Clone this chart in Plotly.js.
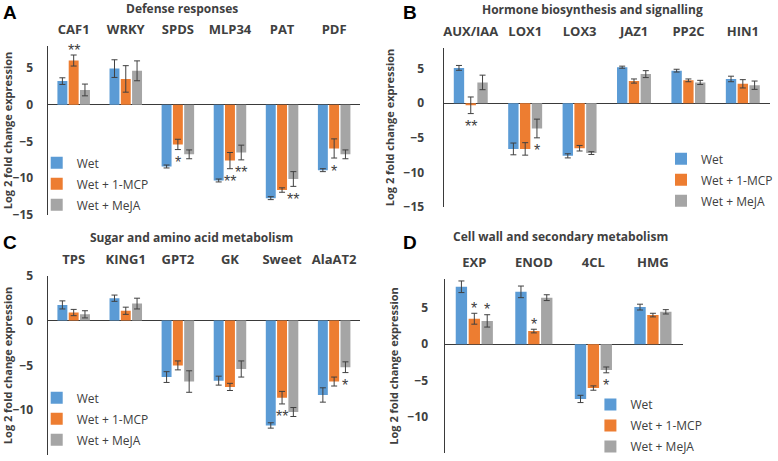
<!DOCTYPE html>
<html>
<head>
<meta charset="utf-8">
<script src="https://cdn.plot.ly/plotly-3.0.1.min.js"></script>
<style>html,body{margin:0;padding:0;background:#fff;}#chart{width:778px;height:461px;}</style>
</head>
<body>
<div id="chart"></div>
<script>
// ---------- DATA ----------
const seriesNames = ['Wet', 'Wet + 1-MCP', 'Wet + MeJA'];

// Panel A: Defense responses
const catsA = ['CAF1', 'WRKY', 'SPDS', 'MLP34', 'PAT', 'PDF'];
const wetA = [3.2, 4.9, -8.4, -10.3, -12.7, -8.9];
const wetAErr = [0.45, 1.2, 0.2, 0.2, 0.2, 0.2];
const mcpA = [6.0, 3.5, -5.4, -7.6, -11.6, -5.95];
const mcpAErr = [0.75, 1.8, 0.7, 1.1, 0.3, 1.3];
const mejaA = [2.0, 4.6, -6.75, -6.5, -10.1, -6.75];
const mejaAErr = [0.8, 1.35, 0.6, 1.0, 1.0, 0.6];
const wetASig = ['', '', '', '', '', ''];
const mcpASig = ['**', '', '*', '**', '', '*'];
const mejaASig = ['', '', '', '**', '**', ''];

// Panel B: Hormone biosynthesis and signalling
const catsB = ['AUX/IAA', 'LOX1', 'LOX3', 'JAZ1', 'PP2C', 'HIN1'];
const wetB = [5.1, -6.6, -7.6, 5.2, 4.7, 3.5];
const wetBErr = [0.35, 0.85, 0.3, 0.15, 0.2, 0.4];
const mcpB = [-0.3, -6.6, -6.5, 3.2, 3.3, 2.8];
const mcpBErr = [1.2, 0.9, 0.4, 0.3, 0.2, 0.6];
const mejaB = [3.0, -3.65, -7.2, 4.2, 3.0, 2.6];
const mejaBErr = [1.05, 1.35, 0.2, 0.5, 0.3, 0.6];
const wetBSig = ['', '', '', '', '', ''];
const mcpBSig = ['**', '', '', '', '', ''];
const mejaBSig = ['', '*', '', '', '', ''];

// Panel C: Sugar and amino acid metabolism
const catsC = ['TPS', 'KING1', 'GPT2', 'GK', 'Sweet', 'AlaAT2'];
const wetC = [1.75, 2.5, -6.3, -6.7, -11.7, -8.3];
const wetCErr = [0.45, 0.35, 0.6, 0.5, 0.3, 0.8];
const mcpC = [0.9, 1.1, -5.0, -7.4, -8.6, -6.8];
const mcpCErr = [0.35, 0.4, 0.5, 0.4, 0.7, 0.5];
const mejaC = [0.7, 1.9, -6.8, -5.4, -10.2, -5.2];
const mejaCErr = [0.4, 0.6, 1.2, 0.9, 0.5, 0.6];
const wetCSig = ['', '', '', '', '', ''];
const mcpCSig = ['', '', '', '', '**', ''];
const mejaCSig = ['', '', '', '', '', '*'];

// Panel D: Cell wall and secondary metabolism
const catsD = ['EXP', 'ENOD', '4CL', 'HMG'];
const wetD = [7.9, 7.2, -7.55, 5.1];
const wetDErr = [0.8, 0.8, 0.5, 0.4];
const mcpD = [3.5, 1.8, -6.05, 4.0];
const mcpDErr = [0.75, 0.25, 0.3, 0.25];
const mejaD = [3.2, 6.4, -3.55, 4.45];
const mejaDErr = [0.85, 0.4, 0.4, 0.3];
const wetDSig = ['', '', '', ''];
const mcpDSig = ['*', '*', '', ''];
const mejaDSig = ['*', '', '*', ''];

const panelTitles = ['Defense responses', 'Hormone biosynthesis and signalling',
  'Sugar and amino acid metabolism', 'Cell wall and secondary metabolism'];
const panelLetters = ['A', 'B', 'C', 'D'];
const yTitle = 'Log 2 fold change expression';
const tickVals = [-15, -10, -5, 0, 5];

// ---------- STYLE / LAYOUT ----------
const W = 778, H = 461;
const colors = ['#5B9BD5', '#ED7D31', '#A5A5A5'];
const txt = '#404040';
const FONT = 'Open Sans, Liberation Sans, sans-serif';
const STAR_FONT = 'Liberation Sans, Arial, sans-serif';
const bargap = 0.35;

const panels = [
  {cats: catsA, vals: [wetA, mcpA, mejaA], errs: [wetAErr, mcpAErr, mejaAErr], sigs: [wetASig, mcpASig, mejaASig],
   x0: 48, x1: 363, yTop: 46, yBot: 216, range: [-15, 8], tickStand: 11,
   leg: {x: 37 / W, xanchor: 'left', y: 1 - 149 / H},
   titleX: 183, titleY: 9, letterX: 1, letterY: 0},
  {cats: catsB, vals: [wetB, mcpB, mejaB], errs: [wetBErr, mcpBErr, mejaBErr], sigs: [wetBSig, mcpBSig, mejaBSig],
   x0: 447, x1: 776, yTop: 48, yBot: 208, range: [-15, 8], tickStand: 16,
   leg: {x: 1.008, xanchor: 'right', y: 1 - 145 / H},
   titleX: 597, titleY: 10, letterX: 404, letterY: 0},
  {cats: catsC, vals: [wetC, mcpC, mejaC], errs: [wetCErr, mcpCErr, mejaCErr], sigs: [wetCSig, mcpCSig, mejaCSig],
   x0: 48, x1: 363, yTop: 277, yBot: 457, range: [-15, 5], tickStand: 11,
   leg: {x: 37 / W, xanchor: 'left', y: 1 - 385 / H},
   titleX: 193, titleY: 239, letterX: 1, letterY: 231},
  {cats: catsD, vals: [wetD, mcpD, mejaD], errs: [wetDErr, mcpDErr, mejaDErr], sigs: [wetDSig, mcpDSig, mejaDSig],
   x0: 448, x1: 688, yTop: 280, yBot: 455, range: [-15, 9], tickStand: 13,
   leg: {x: 595 / W, xanchor: 'left', y: 1 - 392 / H},
   titleX: 565, titleY: 238, letterX: 404, letterY: 231}
];

const data = [];
const layout = {
  width: W, height: H,
  margin: {l: 0, r: 0, t: 0, b: 0},
  paper_bgcolor: '#ffffff', plot_bgcolor: 'rgba(0,0,0,0)',
  barmode: 'group', bargap: bargap, bargroupgap: 0.12,
  font: {family: FONT, color: txt, size: 12},
  showlegend: true,
  annotations: []
};

panels.forEach((p, k) => {
  const sfx = k === 0 ? '' : String(k + 1);
  const xa = 'x' + sfx, ya = 'y' + sfx;
  const legKey = 'legend' + sfx;
  const slot = (1 - bargap) / 3;
  for (let i = 0; i < 3; i++) {
    data.push({
      type: 'bar', name: seriesNames[i], x: p.cats, y: p.vals[i],
      xaxis: xa, yaxis: ya, legend: legKey, legendgroup: 'g' + k + '_' + i,
      marker: {color: colors[i]},
      error_y: {type: 'data', array: p.errs[i], visible: true, color: '#404040', thickness: 1, width: 3},
      hoverinfo: 'x+y+name'
    });
    // significance asterisks from the sig arrays
    p.sigs[i].forEach((s, j) => {
      if (!s) return;
      const v = p.vals[i][j], e = p.errs[i][j];
      const up = v >= 0;
      layout.annotations.push({
        xref: xa, yref: ya, x: j + (i - 1) * slot, y: up ? v + e : v - e,
        text: s, showarrow: false, xanchor: 'center', yanchor: 'middle',
        yshift: up ? 5 : -13,
        font: {family: STAR_FONT, size: 16, color: '#404040'}
      });
    });
  }
  layout['xaxis' + sfx] = {
    domain: [p.x0 / W, p.x1 / W], anchor: ya, type: 'category', side: 'top',
    showline: false, showgrid: false, zeroline: false, ticks: '', ticklabelstandoff: 8,
    tickfont: {family: FONT, size: 13, color: txt, weight: 'bold'}, fixedrange: true
  };
  layout['yaxis' + sfx] = {
    domain: [(H - p.yBot) / H, (H - p.yTop) / H], anchor: xa, range: p.range,
    tickvals: tickVals, ticks: '', ticklabelstandoff: p.tickStand,
    showgrid: false, zeroline: true, zerolinecolor: '#3a3a3a', zerolinewidth: 1,
    showline: true, linecolor: '#3a3a3a', linewidth: 1,
    tickfont: {family: FONT, size: 12, color: txt, weight: 'bold'},
    title: {text: yTitle, font: {family: FONT, size: 11, color: txt, weight: 'bold'}, standoff: 6},
    fixedrange: true
  };
  layout[legKey] = Object.assign({
    yanchor: 'top', bgcolor: 'rgba(0,0,0,0)', borderwidth: 0, tracegroupgap: 2,
    font: {family: FONT, size: 12, color: txt}
  }, p.leg);
  layout.annotations.push({
    xref: 'paper', yref: 'paper', x: p.titleX / W, y: 1 - p.titleY / H,
    xanchor: 'center', yanchor: 'middle', showarrow: false, text: panelTitles[k],
    font: {family: FONT, size: 12, color: txt, weight: 'bold'}
  });
  layout.annotations.push({
    xref: 'paper', yref: 'paper', x: p.letterX / W, y: 1 - p.letterY / H,
    xanchor: 'left', yanchor: 'top', showarrow: false, text: panelLetters[k],
    font: {family: 'Liberation Sans, Arial, sans-serif', size: 19, color: '#000000', weight: 'bold'}
  });
});

Plotly.newPlot('chart', data, layout, {displayModeBar: false, staticPlot: true});
</script>
</body>
</html>
